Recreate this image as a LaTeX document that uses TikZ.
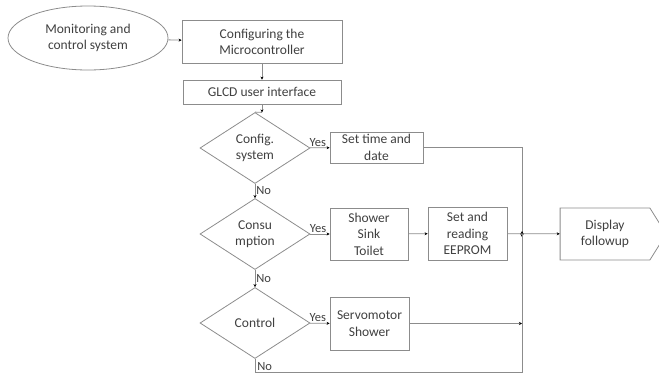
\documentclass[tikz,border=0pt]{standalone}
\usepackage{fontspec}
\setmainfont{Carlito}
\usetikzlibrary{shapes.geometric,shapes.symbols,arrows.meta}
\definecolor{linegray}{HTML}{8C8C8C}
\definecolor{textgray}{HTML}{404040}
\begin{document}
\begin{tikzpicture}[x=1pt,y=-1pt]
        \tikzstyle{every node} = [font=\fontsize{13.5}{16.5}\selectfont, text=textgray]
        \tikzstyle{box} = [rectangle, draw=linegray, thick, text centered, align=center, inner sep=0pt]
        \tikzstyle{decision} = [diamond, draw=linegray, thick, align=center, inner sep=0pt, minimum width=110pt, minimum height=71pt]
        \tikzstyle{line} = [draw=linegray, thick]
        \tikzstyle{arrow} = [line, -{Stealth[length=3pt,width=3pt,black]}]
        \tikzstyle{lbl} = [inner sep=1pt, font=\fontsize{12.5}{14}\selectfont]
                \useasboundingbox (0,0) rectangle (659,378);

                \node (start) [ellipse, draw=linegray, thick, minimum width=160pt, minimum height=64pt, align=center, inner sep=0pt] at (88,38) {Monitoring and\\control system};
                \node (micro) [box, minimum width=160pt, minimum height=43pt] at (262,42) {Configuring the\\Microcontroller};
                \node (glcd) [box, minimum width=158pt, minimum height=24pt] at (262,92) {GLCD user interface};

                \node (config) [decision] at (255,148) {Config.\\system};
                \node (consum) [decision] at (255,234) {Consu\\mption};
                \node (control) [decision] at (255,323) {Control};

                \node (settime) [box, minimum width=93pt, minimum height=31pt] at (376.5,147.5) {Set time and\\date};
                \node (shower) [box, minimum width=78pt, minimum height=52pt] at (369,234) {Shower\\Sink\\Toilet};
                \node (eeprom) [box, minimum width=79pt, minimum height=53pt] at (467.5,233.5) {Set and\\reading\\EEPROM};
                \node (servo) [box, minimum width=79pt, minimum height=53pt] at (369.5,323.5) {Servomotor\\Shower};
                \node (disp) [signal, signal to=east, signal pointer angle=116, draw=linegray, thick, align=center, inner sep=0pt, minimum width=106pt, minimum height=52pt] at (605,234) {Display\\followup};

                \coordinate (j) at (522,234);
                \coordinate (bot) at (522,372);

                \draw[arrow] (start) -- (micro);
                \draw[arrow] (micro) -- (glcd);
                \draw[arrow] (glcd.south) -- ++(0,8) coordinate (gtip);
                \draw[line] (gtip) -- (config.north);
                \draw[arrow] (config) -- node[lbl, anchor=south, pos=0.45, xshift=-1pt] {Yes} (settime);
                \draw[arrow] (consum) -- node[lbl, anchor=south, pos=0.45, xshift=-1pt] {Yes} (shower);
                \draw[arrow] (control) -- node[lbl, anchor=south, pos=0.45, xshift=-1pt] {Yes} (servo);
                \draw[arrow] (config) -- node[lbl, anchor=west, pos=0.5] {No} (consum);
                \draw[arrow] (consum) -- node[lbl, anchor=west, pos=0.5] {No} (control);
                \draw[arrow] (shower) -- (eeprom);
                \draw[arrow] (eeprom) -- (disp);
                \draw[arrow] (settime.east) -| ([yshift=-3pt]j);
                \draw[arrow] (servo.east) -- (servo.east -| j);
                \draw[arrow] (control.south) |- node[lbl, anchor=south west, pos=0.5, xshift=1pt] {No} (bot) -- ([yshift=3pt]j);

    \end{tikzpicture}
\end{document}
